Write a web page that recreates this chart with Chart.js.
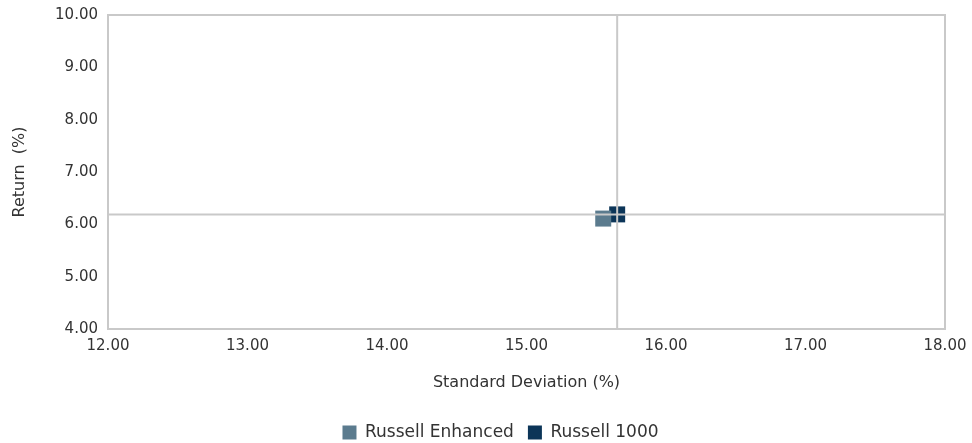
<!DOCTYPE html>
<html>
<head>
<meta charset="utf-8">
<title>Risk / Return</title>
<script src="https://cdn.jsdelivr.net/npm/chart.js"></script>
<style>
  html, body { margin: 0; padding: 0; background: #fff; }
  #wrap { width: 972px; height: 443px; position: relative; }
</style>
</head>
<body>
<div id="wrap"><canvas id="riskChart"></canvas></div>
<script>
// data
const seriesNames = ['Russell Enhanced', 'Russell 1000'];
const stdDev = [15.55, 15.65];
const returns = [6.11, 6.19];
const seriesColors = ['#5b7b8e', '#0c3558'];

const xMin = 12, xMax = 18, yMin = 4, yMax = 10;
// benchmark crosshair = Russell 1000
const benchX = stdDev[1], benchY = returns[1];

const font = "'DejaVu Sans', sans-serif";
const grey = '#c9c9c9';
const txt = '#333';

const ctx = document.getElementById('riskChart').getContext('2d');
new Chart(ctx, {
  type: 'scatter',
  data: {
    datasets: [
      {
        label: 'hline',
        type: 'line',
        data: [{ x: xMin, y: benchY }, { x: xMax, y: benchY }],
        borderColor: grey, borderWidth: 2, pointRadius: 0, order: 0
      },
      {
        label: 'vline',
        type: 'line',
        data: [{ x: benchX, y: yMin }, { x: benchX, y: yMax }],
        borderColor: grey, borderWidth: 2, pointRadius: 0, order: 0
      },
      ...seriesNames.map((name, i) => ({
        label: name,
        data: [{ x: stdDev[i], y: returns[i] }],
        backgroundColor: seriesColors[i],
        borderColor: seriesColors[i],
        borderWidth: 0,
        pointStyle: 'rect',
        pointRadius: 11.3,
        pointHoverRadius: 11.3,
        order: 1
      }))
    ]
  },
  options: {
    responsive: true,
    maintainAspectRatio: false,
    animation: false,
    layout: { padding: { left: 10, right: 27, top: 15, bottom: -8 } },
    plugins: {
      tooltip: { enabled: false },
      legend: {
        position: 'bottom',
        labels: {
          filter: item => item.text !== 'hline' && item.text !== 'vline',
          usePointStyle: true,
          pointStyle: 'rect',
          boxWidth: 14, boxHeight: 14,
          color: txt, font: { family: font, size: 17 },
          padding: 14
        }
      }
    },
    scales: {
      x: {
        type: 'linear', min: xMin, max: xMax,
        ticks: { stepSize: 1, color: txt, font: { family: font, size: 15 }, padding: 8, callback: v => v.toFixed(2) },
        grid: { display: false, drawTicks: false },
        border: { color: grey, width: 2 },
        title: { display: true, text: 'Standard Deviation (%)', color: txt, font: { family: font, size: 16 }, padding: { top: 12, bottom: 18 } },
        afterFit: s => { s.height = 81; s.paddingLeft = 0; s.paddingRight = 0; }
      },
      y: {
        type: 'linear', min: yMin, max: yMax,
        ticks: { stepSize: 1, color: txt, font: { family: font, size: 15 }, padding: 10, callback: v => v.toFixed(2) },
        grid: { display: false, drawTicks: false },
        border: { color: grey, width: 2 },
        title: { display: true, text: 'Return  (%)', color: txt, font: { family: font, size: 16 }, padding: { top: 0, bottom: 0 } },
        afterFit: s => { s.width = 98; s.paddingTop = 0; s.paddingBottom = 0; }
      }
    }
  },
  plugins: [{
    id: 'legendShift',
    afterLayout(chart) {
      // legend in the original sits a bit right of canvas centre
      chart.legend.left += 23;
      chart.legend.right += 23;
    }
  }, {
    id: 'frame',
    afterDraw(chart) {
      const a = chart.chartArea, c = chart.ctx;
      c.save();
      c.strokeStyle = grey; c.lineWidth = 2;
      c.strokeRect(a.left, a.top, a.right - a.left, a.bottom - a.top);
      c.restore();
    }
  }]
});
</script>
</body>
</html>
